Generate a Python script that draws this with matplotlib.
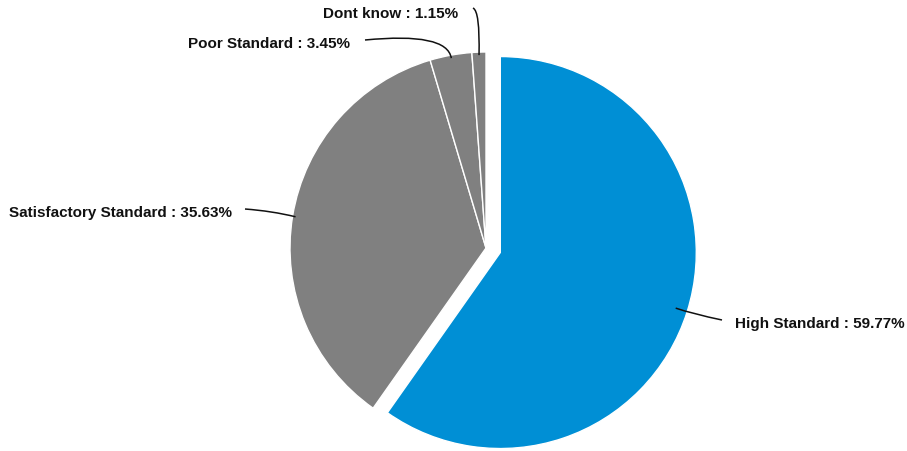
import numpy as np
import matplotlib.pyplot as plt
from matplotlib.path import Path
from matplotlib.patches import PathPatch

labels = ['High Standard', 'Satisfactory Standard', 'Poor Standard', 'Dont know']
values = [59.77, 35.63, 3.45, 1.15]
colors = ['#008fd5', '#808080', '#808080', '#808080']
explode = [15, 0, 0, 0]

W, H = 907, 452
cx, cy, R = 486, 249, 196   # pie centre / radius in pixels (y down)

fig = plt.figure(figsize=(W / 100, H / 100), dpi=100)
ax = fig.add_axes([0, 0, 1, 1])

ax.pie(values, colors=colors, explode=explode, startangle=90, counterclock=False,
       center=(cx, H - cy), radius=R, frame=True,
       wedgeprops=dict(edgecolor='white', linewidth=1.0))
ax.set_xlim(0, W)
ax.set_ylim(0, H)
ax.set_aspect('equal')
ax.axis('off')

# label text anchors (pixels, y down) and connector bends
lab_pos = {
    'High Standard': (735, 324, 'left'),
    'Satisfactory Standard': (232, 213, 'right'),
    'Poor Standard': (350, 44, 'right'),
    'Dont know': (458, 14, 'right'),
}
bends = {
    'High Standard': [(693, 315), (722, 321)],
    'Satisfactory Standard': [(272, 212), (245, 210)],
    'Poor Standard': [(447, 33), (365, 41)],
    'Dont know': [(480, 12), (473, 9)],
}

total = sum(values)
start = 0.0
for lab, val in zip(labels, values):
    mid = (start + val / 2) / total * 360.0
    start += val
    a = np.radians(mid)
    off = explode[labels.index(lab)]
    ox = cx + off * np.sin(a)
    oy = cy - off * np.cos(a)
    r_in = R - 12 if lab == 'High Standard' else R - 3
    px = ox + r_in * np.sin(a)
    py = oy - r_in * np.cos(a)
    (bx, by), (ex, ey) = bends[lab]
    verts = [(px, H - py), (bx, H - by), (ex, H - ey)]
    path = Path(verts, [Path.MOVETO, Path.CURVE3, Path.CURVE3])
    ax.add_patch(PathPatch(path, fill=False, edgecolor='#111111', lw=1.1))
    tx, ty, ha = lab_pos[lab]
    ax.text(tx, H - ty - 0.5, f'{lab} : {val:.2f}%', ha=ha, va='center',
            fontsize=11.0, fontweight='bold', family='Liberation Sans', color='#111111')

fig.savefig('out.png', dpi=100)
